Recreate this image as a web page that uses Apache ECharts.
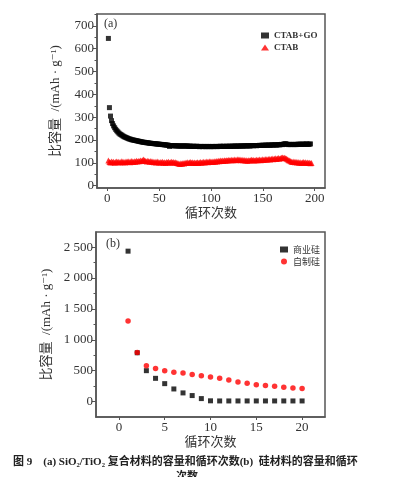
<!DOCTYPE html>
<html>
<head>
<meta charset="utf-8">
<script src="https://cdn.jsdelivr.net/npm/echarts@6/dist/echarts.min.js"></script>
<style>
html,body{margin:0;padding:0;background:#fff}
#main{width:399px;height:477px}
</style>
</head>
<body>
<div id="main"></div>
<script>
// (a) cycles / capacity, CTAB+GO (black) and CTAB (red)
var goVals = [
645,342,305,285,272,262,254,247,241,236,
231,227,224,221,218,215,213,211,209,207,
205,204,202,201,200,199,198,197,196,195,
194,193,192,191,190,190,189,188,188,187,
186,186,185,185,184,184,183,183,182,182,
181,181,180,180,179,179,178,178,177,172,
176,176,175,175,175,175,175,174,174,174,
174,174,174,174,174,174,174,173,173,173,
173,172,173,172,172,173,172,172,171,172,
172,171,172,172,171,172,171,172,172,171,
172,171,172,172,172,171,172,172,173,172,
172,173,172,172,173,172,173,173,172,173,
173,173,174,173,173,174,173,174,174,174,
174,174,175,174,175,175,174,175,175,176,
175,176,176,175,176,176,177,176,177,177,
177,177,178,177,178,178,177,178,179,178,
179,179,178,179,180,179,180,181,180,182,
183,184,182,181,180,181,180,181,181,180,
181,180,181,182,181,182,181,182,182,181,
182,183,182,181,182,183
]
var ctabVals = [
110,104,102,106,103,105,101,104,106,103,
105,102,104,107,103,105,102,106,104,107,
105,103,108,106,104,107,105,109,106,108,
107,110,108,112,115,110,108,106,109,107,
105,108,104,106,103,105,102,106,104,101,
104,102,105,101,103,100,104,102,105,101,
103,105,102,104,101,103,100,98,97,95,
98,96,100,97,101,99,103,100,102,104,
101,103,100,102,99,101,103,100,102,104,
101,103,105,102,104,106,103,105,107,104,
106,104,107,105,108,106,109,107,110,108,
110,108,111,109,112,110,113,111,112,114,
111,113,115,112,114,116,113,115,112,114,
111,113,110,112,109,111,110,112,114,111,
113,110,112,114,111,113,115,112,114,116,
113,115,117,114,116,118,115,117,119,116,
118,120,117,119,121,118,120,122,124,121,
123,120,118,115,112,110,107,105,104,106,
103,105,102,104,101,103,100,102,104,101,
103,100,102,99,101,98,100
]
var aXTicks = [0,50,100,150,200]
var aYTicks = [0,100,200,300,400,500,600,700]
var aYMinor = [50,150,250,350,450,550,650,750]

// (b) silicon materials
var bCycles = [1,2,3,4,5,6,7,8,9,10,11,12,13,14,15,16,17,18,19,20]
var commVals = [2435,790,500,376,290,204,140,97,48,12,10,10,10,10,10,10,10,10,10,10]
var homeVals = [1306,795,580,537,500,473,462,440,419,398,376,349,317,296,274,258,247,231,220,210]
var bXTicks = [0,5,10,15,20]
var bYTicks = [0,500,1000,1500,2000,2500]
var bYMinor = [250,750,1250,1750,2250]

function pairs(xs, ys){
    var out = []
    for(var i=0;i<ys.length;i++){ out.push([xs[i], ys[i]]) }
    return out
}
var aCycles = goVals.map(function(v,i){return i+1})
var aCycles2 = ctabVals.map(function(v,i){return i+1})

var serif = '"Liberation Serif","DejaVu Serif",serif'
var cjk = '"Noto Sans CJK SC","Liberation Serif",sans-serif'
var mixed = '"Liberation Serif","DejaVu Serif","Noto Sans CJK SC",serif'
var txt = '#333'

function fmtK(v){
    var s = String(v)
    if(s.length > 3) s = s.slice(0, s.length-3) + ' ' + s.slice(s.length-3)
    return s
}

function baseX(idx, min, max, ticks, name, gap){
    return {
        type:'value', gridIndex:idx, min:min, max:max,
        name:name, nameLocation:'middle', nameGap:gap,
        nameTextStyle:{fontFamily:cjk, fontSize:13, color:txt},
        axisLine:{show:true, onZero:false, lineStyle:{color:'#555', width:1.5}},
        axisTick:{show:true, inside:false, length:3, customValues:ticks, lineStyle:{color:'#555'}},
        axisLabel:{customValues:ticks, fontFamily:serif, fontSize:13, color:txt, margin:4},
        splitLine:{show:false}
    }
}
function baseY(idx, min, max, ticks, name, gap, fmt){
    return {
        type:'value', gridIndex:idx, min:min, max:max,
        name:name, nameLocation:'middle', nameGap:gap, nameRotate:90,
        nameTextStyle:{fontFamily:mixed, fontSize:13, color:txt},
        axisLine:{show:true, onZero:false, lineStyle:{color:'#555', width:1.5}},
        axisTick:{show:true, inside:false, length:4, customValues:ticks, lineStyle:{color:'#555'}},
        axisLabel:{customValues:ticks, fontFamily:serif, fontSize:13, color:txt, margin:3, formatter:fmt},
        splitLine:{show:false}
    }
}
function minorY(idx, min, max, ticks){
    return {
        type:'value', gridIndex:idx, min:min, max:max, position:'left',
        axisLine:{show:true, onZero:false, lineStyle:{color:'rgba(0,0,0,0)'}},
        axisTick:{show:true, inside:false, length:2.5, customValues:ticks, lineStyle:{color:'#555', width:1}},
        axisLabel:{show:false},
        splitLine:{show:false}
    }
}

var chart = echarts.init(document.getElementById('main'))
chart.setOption({
    animation:false,
    backgroundColor:'#fff',
    grid:[
        {left:97, top:14, width:228, height:174, show:true, borderColor:'#555', borderWidth:1.5, backgroundColor:'#fff'},
        {left:96, top:232, width:229, height:185, show:true, borderColor:'#555', borderWidth:1.5, backgroundColor:'#fff'}
    ],
    xAxis:[
        baseX(0, -10, 210, aXTicks, '循环次数', 9),
        baseX(1, -2.5, 22.5, bXTicks, '循环次数', 16)
    ],
    yAxis:[
        baseY(0, -10, 752, aYTicks, '比容量  /(mAh · g⁻¹)', 35, null),
        baseY(1, -250, 2745, bYTicks, '比容量  /(mAh · g⁻¹)', 43, fmtK),
        minorY(0, -10, 752, aYMinor),
        minorY(1, -250, 2745, bYMinor)
    ],
    legend:[
        {
            orient:'vertical', left:256, top:26, itemWidth:8, itemHeight:6, itemGap:3,
            data:['CTAB+GO','CTAB'],
            textStyle:{fontFamily:serif, fontSize:9, fontWeight:'bold', color:txt}
        },
        {
            orient:'vertical', left:275, top:240, itemWidth:8, itemHeight:6, itemGap:3,
            data:['商业硅','自制硅'],
            textStyle:{fontFamily:cjk, fontSize:9, color:txt}
        }
    ],
    graphic:[
        {type:'text', left:104, top:18, style:{text:'(a)', font:'12px ' + serif, fill:txt}},
        {type:'text', left:106, top:238, style:{text:'(b)', font:'12px ' + serif, fill:txt}},
        {type:'text', left:13, top:457, style:{text:'图 9    (a) SiO₂/TiO₂ 复合材料的容量和循环次数(b)  硅材料的容量和循环', font:'bold 11px ' + mixed, fill:'#222'}},
        {type:'text', left:176, top:472, style:{text:'次数', font:'bold 11px ' + mixed, fill:'#222'}}
    ],
    series:[
        {
            name:'CTAB+GO', type:'scatter', xAxisIndex:0, yAxisIndex:0,
            symbol:'rect', symbolSize:5, itemStyle:{color:'#000'},
            data:pairs(aCycles, goVals)
        },
        {
            name:'CTAB', type:'scatter', xAxisIndex:0, yAxisIndex:0,
            symbol:'triangle', symbolSize:6, itemStyle:{color:'#f00'},
            data:pairs(aCycles2, ctabVals)
        },
        {
            name:'商业硅', type:'scatter', xAxisIndex:1, yAxisIndex:1,
            symbol:'rect', symbolSize:5, itemStyle:{color:'#000'},
            data:pairs(bCycles, commVals)
        },
        {
            name:'自制硅', type:'scatter', xAxisIndex:1, yAxisIndex:1,
            symbol:'circle', symbolSize:5.5, itemStyle:{color:'#f00'},
            data:pairs(bCycles, homeVals)
        }
    ]
})
</script>
</body>
</html>
